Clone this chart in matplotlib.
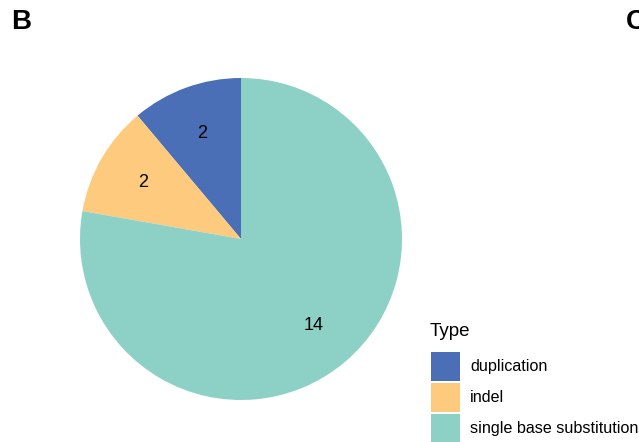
import matplotlib.pyplot as plt
from matplotlib.patches import Rectangle

plt.rcParams['font.family'] = ['Liberation Sans', 'DejaVu Sans']

# data
types = ['duplication', 'indel', 'single base substitution']
counts = [2, 2, 14]
colors = ['#4A6FB7', '#FECB7E', '#8DD1C6']

W, H = 639, 442
fig = plt.figure(figsize=(W / 100, H / 100), dpi=100)

# pie axes: centre (241, 239) px, radius 161 px
cx, cy, r = 241, 239, 161
ax = fig.add_axes([(cx - r) / W, (H - cy - r) / H, 2 * r / W, 2 * r / H])
wedges, texts = ax.pie(counts, colors=colors, startangle=90, counterclock=True,
                       labels=[str(c) for c in counts], labeldistance=0.7,
                       radius=1, wedgeprops=dict(linewidth=0),
                       textprops=dict(fontsize=13, ha='center', va='center'))
ax.set_xlim(-1, 1)
ax.set_ylim(-1, 1)
ax.set_aspect('equal')
ax.axis('off')

# legend drawn by hand (ggplot-like square keys)
def fy(py):
    return 1 - py / H

fig.text(430 / W, fy(332), 'Type', fontsize=13.5, ha='left', va='center')
key_top = 352
key_size = 29
pitch = 31
for i, (lab, col) in enumerate(zip(types, colors)):
    top = key_top + i * pitch
    fig.add_artist(Rectangle((431 / W, fy(top + key_size)), key_size / W, key_size / H,
                             transform=fig.transFigure, facecolor=col, edgecolor='none'))
    fig.text(470 / W, fy(top + key_size / 2), lab, fontsize=11.6, ha='left', va='center')

# panel tags
fig.text(11 / W, fy(22), 'B', fontsize=20, fontweight='bold', va='center', ha='left')
fig.text(626 / W, fy(22), 'C', fontsize=20, fontweight='bold', va='center', ha='left')

fig.savefig('out.png', dpi=100, facecolor='white')
